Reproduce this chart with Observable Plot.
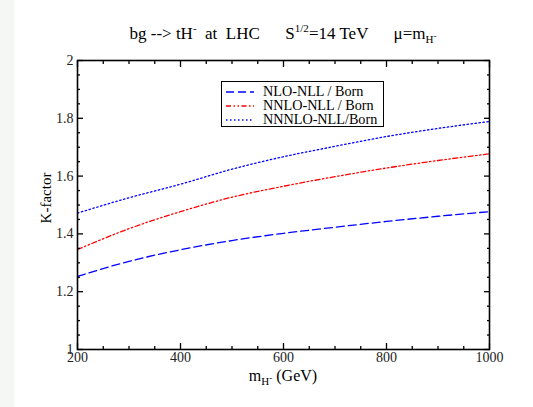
<!DOCTYPE html>
<html><head><meta charset="utf-8">
<script src="https://cdn.jsdelivr.net/npm/d3@7"></script>
<script src="https://cdn.jsdelivr.net/npm/@observablehq/plot@0.6"></script>
<style>
body{margin:0;background:#fff;}
#wrap{position:relative;width:533px;height:407px;overflow:hidden;font-family:"Liberation Serif","Times New Roman",serif;color:#000;}
#strip{position:absolute;left:0;top:0;width:14px;height:407px;background:#f5f7f5;}
#chart{position:absolute;left:0;top:0;}
.sup{font-size:11px;position:relative;top:-7px;}
.sub{font-size:11px;position:relative;top:4px;}
#title{position:absolute;left:77px;width:412px;top:25px;text-align:center;font-size:17px;line-height:17px;white-space:pre;}
#xlabel{position:absolute;left:77px;width:412px;top:368px;text-align:center;font-size:16px;line-height:16px;white-space:pre;}
#ylabel{position:absolute;left:46px;top:198px;font-size:15px;line-height:15px;white-space:pre;transform:translate(-50%,-50%) rotate(-90deg);}
#legend{position:absolute;left:221px;top:81px;width:161px;height:44px;border:1.3px solid #000;background:#fff;}
.row{position:absolute;left:0;height:13px;font-family:"Liberation Serif","Times New Roman",serif;font-size:14.2px;line-height:13px;white-space:pre;}
.row svg{position:absolute;left:4px;top:2px;}
.row span{position:absolute;left:41px;top:0;}
</style></head>
<body>
<div id="wrap">
  <div id="strip"></div>
  <div id="chart"></div>
  <div id="title">bg --&gt; tH<span class="sup">-</span>  at  LHC      S<span class="sup">1/2</span>=14 TeV      μ=m<span class="sub">H<span class="sup" style="top:-4px;font-size:9px">-</span></span></div>
  <div id="xlabel">m<span class="sub">H<span class="sup" style="top:-4px;font-size:9px">-</span></span> (GeV)</div>
  <div id="ylabel">K-factor</div>
  <div id="legend"></div>
</div>
<script>
// Data
const mass = [200, 300, 400, 500, 600, 700, 800, 900, 1000];
const kNLO = [1.253, 1.305, 1.345, 1.377, 1.402, 1.423, 1.443, 1.461, 1.477];
const kNNLO = [1.346, 1.418, 1.477, 1.527, 1.565, 1.598, 1.628, 1.654, 1.677];
const kNNNLO = [1.472, 1.525, 1.572, 1.624, 1.667, 1.703, 1.737, 1.765, 1.789];
const seriesNames = ["NLO-NLL / Born", "NNLO-NLL / Born", "NNNLO-NLL/Born"];
const seriesColors = ["#0000ff", "#ff0000", "#0000ff"];
const seriesDash = ["8,4", "5,2.5,1.5,2.5,1.5,2.5", "1.5,2.5"];
const xTicks = [200, 400, 600, 800, 1000];
const xMinor = [250, 300, 350, 450, 500, 550, 650, 700, 750, 850, 900, 950];
const yTicks = [1, 1.2, 1.4, 1.6, 1.8, 2];
const yMinor = [1.05, 1.1, 1.15, 1.25, 1.3, 1.35, 1.45, 1.5, 1.55, 1.65, 1.7, 1.75, 1.85, 1.9, 1.95];

const serif = "'Liberation Serif','Times New Roman',serif";
const allSeries = [kNLO, kNNLO, kNNNLO];
const rows = [];
allSeries.forEach((vals, i) => vals.forEach((v, j) => rows.push({m: mass[j], k: v, s: seriesNames[i]})));

const lineMarks = seriesNames.map((name, i) =>
  Plot.line(rows.filter(d => d.s === name), {
    x: "m", y: "k", stroke: seriesColors[i], strokeWidth: 1.3, strokeDasharray: seriesDash[i], curve: "monotone-x"
  })
);

const tk = {stroke: "#000", strokeWidth: 1.3, tickFormat: () => "", label: null};
const plot = Plot.plot({
  width: 533, height: 407,
  marginLeft: 77, marginRight: 44, marginTop: 60, marginBottom: 58,
  x: {domain: [200, 1000], axis: null},
  y: {domain: [1, 2], axis: null},
  style: {background: "transparent", fontFamily: serif, fontSize: "14px", overflow: "visible"},
  marks: [
    ...lineMarks,
    Plot.axisX(xMinor, {anchor: "bottom", tickSize: 3, insetBottom: 3, ...tk}),
    Plot.axisX(xMinor, {anchor: "top", tickSize: 3, insetTop: 3, ...tk}),
    Plot.axisX(xTicks, {anchor: "bottom", tickSize: 6, insetBottom: 6, ...tk}),
    Plot.axisX(xTicks, {anchor: "top", tickSize: 6, insetTop: 6, ...tk}),
    Plot.axisY(yMinor, {anchor: "left", tickSize: 3, insetLeft: 3, ...tk}),
    Plot.axisY(yMinor, {anchor: "right", tickSize: 3, insetRight: 3, ...tk}),
    Plot.axisY(yTicks, {anchor: "left", tickSize: 6, insetLeft: 6, ...tk}),
    Plot.axisY(yTicks, {anchor: "right", tickSize: 6, insetRight: 6, ...tk}),
    Plot.axisX(xTicks, {anchor: "bottom", tickSize: 0, tickPadding: 3, fill: "#222", fontSize: 14, fontFamily: serif, label: null, tickFormat: d => String(d)}),
    Plot.axisY(yTicks, {anchor: "left", tickSize: 0, tickPadding: 4, fill: "#222", fontSize: 14, fontFamily: serif, label: null, tickFormat: d => String(d)}),
    Plot.frame({stroke: "#000", strokeWidth: 1.6})
  ]
});
document.getElementById("chart").appendChild(plot);

// Legend
const legend = document.getElementById("legend");
seriesNames.forEach((name, i) => {
  const row = document.createElement("div");
  row.className = "row";
  row.style.top = (3 + i * 14) + "px";
  row.style.width = "160px";
  row.innerHTML = `<svg width="30" height="10"><line x1="0" x2="28" y1="5" y2="5" stroke="${seriesColors[i]}" stroke-width="1.3" stroke-dasharray="${seriesDash[i]}"/></svg><span>${name}</span>`;
  legend.appendChild(row);
});
</script>
</body></html>
